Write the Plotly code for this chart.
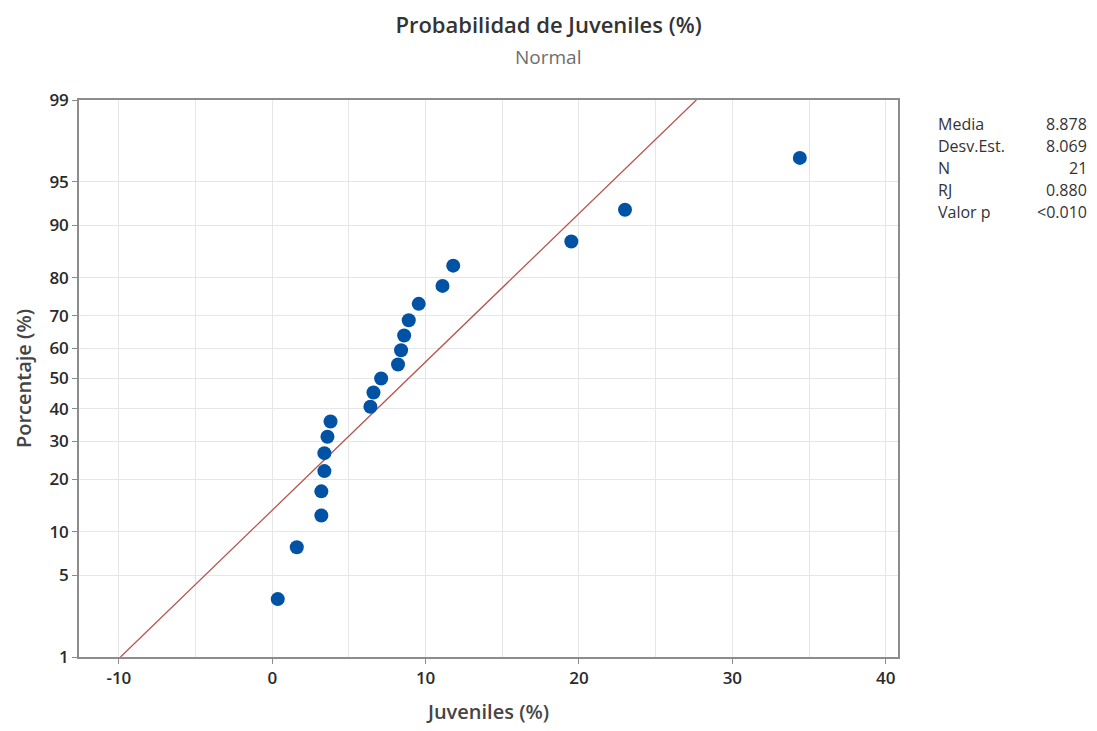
import plotly.graph_objects as go
from statistics import NormalDist

# Data
juveniles = [0.36, 1.6, 3.2, 3.2, 3.4, 3.4, 3.6, 3.8, 6.4, 6.6, 7.1, 8.2, 8.4, 8.6,
             8.9, 9.55, 11.1, 11.8, 19.5, 23.0, 34.4]
porcentaje = [3.27, 7.94, 12.62, 17.29, 21.96, 26.64, 31.31, 35.98, 40.65, 45.33, 50.00,
              54.67, 59.35, 64.02, 68.69, 73.36, 78.04, 82.71, 87.38, 92.06, 96.73]
media = 8.878
desv_est = 8.069
stat_labels = ["Media", "Desv.Est.", "N", "RJ", "Valor p"]
stat_values = ["8.878", "8.069", "21", "0.880", "<0.010"]
y_ticks = [1, 5, 10, 20, 30, 40, 50, 60, 70, 80, 90, 95, 99]
x_ticks = [-10, 0, 10, 20, 30, 40]
x_ticktext = ["-10", "0", "10", "20", "30", "40"]

nd = NormalDist()
z = lambda p: nd.inv_cdf(p / 100.0)

FONT = "Open Sans"
fig = go.Figure()

# fitted normal line
line_p = [1, 99]
line_x = [media + desv_est * z(p) for p in line_p]
fig.add_trace(go.Scatter(x=line_x, y=[z(p) for p in line_p], mode="lines",
                         line=dict(color="#B85450", width=1.3), hoverinfo="skip",
                         showlegend=False))
fig.add_trace(go.Scatter(x=juveniles, y=[z(p) for p in porcentaje], mode="markers",
                         marker=dict(color="#0052A5", size=14), showlegend=False))

axis_common = dict(showline=True, linecolor="#8C8C8C", linewidth=1.5, mirror=True,
                   ticks="outside", ticklen=5, tickcolor="#8C8C8C",
                   gridcolor="#E6E6E6", gridwidth=1.3, zeroline=False,
                   tickfont=dict(family=FONT, size=17, color="#2A2A2A", weight=600))

fig.update_xaxes(range=[-12.6, 40.8], tickvals=x_ticks, ticktext=x_ticktext,
                 minor=dict(dtick=5, tick0=0, showgrid=True, gridcolor="#E6E6E6",
                            ticks=""),
                 title=dict(text="Juveniles (%)",
                            font=dict(family=FONT, size=20, color="#454545", weight=600),
                            standoff=17),
                 **axis_common)
fig.update_yaxes(range=[z(1), z(99)], tickvals=[z(p) for p in y_ticks],
                 ticktext=[str(p) for p in y_ticks],
                 title=dict(text="Porcentaje (%)",
                            font=dict(family=FONT, size=20, color="#454545", weight=600),
                            standoff=12),
                 **axis_common)

fig.update_layout(
    width=1097, height=731,
    margin=dict(l=79, r=199, t=100, b=74),
    paper_bgcolor="white", plot_bgcolor="white",
    font=dict(family=FONT, color="#333333"),
    title=dict(text="Probabilidad de Juveniles (%)", x=0.5, xref="container", xanchor="center",
               y=1 - 25 / 731, yref="container", yanchor="middle",
               font=dict(family=FONT, size=22, color="#333333", weight=600)),
)

fig.add_annotation(text="Normal", xref="paper", yref="paper", x=(548 - 79) / (898 - 79),
                   y=1 + (100 - 57) / (657 - 100), showarrow=False, xanchor="center",
                   yanchor="middle", font=dict(family=FONT, size=19, color="#6E6E6E"))

for i, (lab, val) in enumerate(zip(stat_labels, stat_values)):
    ypix = 124 + 22 * i
    yp = 1 - (ypix - 100) / (657 - 100)
    fig.add_annotation(text=lab, xref="paper", yref="paper", x=(936 - 79) / (898 - 79), y=yp,
                       xanchor="left", yanchor="middle", showarrow=False,
                       font=dict(family=FONT, size=16, color="#333333"))
    fig.add_annotation(text=val, xref="paper", yref="paper", x=(1089 - 79) / (898 - 79), y=yp,
                       xanchor="right", yanchor="middle", showarrow=False,
                       font=dict(family=FONT, size=16, color="#333333"))

fig.write_html("out.html", config={"displayModeBar": False},
               post_script="document.body.style.margin='0';")
